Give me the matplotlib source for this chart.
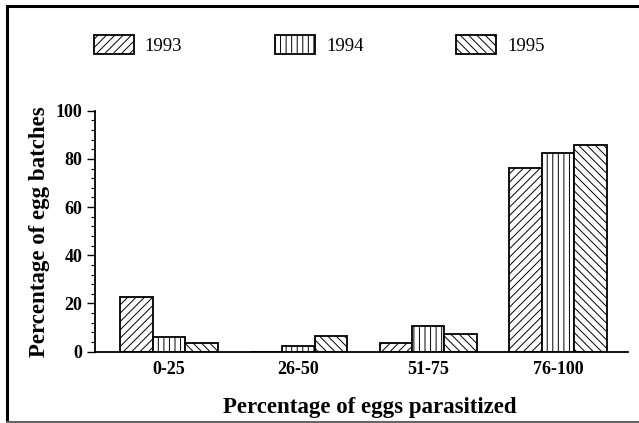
import matplotlib
matplotlib.use("Agg")
import matplotlib.pyplot as plt
import numpy as np
from matplotlib.lines import Line2D

categories = ["0-25", "26-50", "51-75", "76-100"]
years = ["1993", "1994", "1995"]
v1993 = [22.7, 0.0, 3.7, 76.1]
v1994 = [6.0, 2.5, 10.7, 82.3]
v1995 = [3.5, 6.6, 7.4, 85.8]
series = [v1993, v1994, v1995]
hatches = ["////", "|||", "\\\\\\\\"]

plt.rcParams["font.family"] = ["Liberation Serif", "DejaVu Serif"]
plt.rcParams["hatch.linewidth"] = 0.7

fig = plt.figure(figsize=(6.39, 4.23), dpi=100)
ax = fig.add_axes([95/639, 1-351.7/423, (628-95)/639, (351.7-110.7)/423])

x = np.arange(len(categories))
w = 0.25
for i, (vals, h, lab) in enumerate(zip(series, hatches, years)):
    ax.bar(x + (i - 1) * w, vals, width=w, color="white", edgecolor="black",
           linewidth=1.3, hatch=h, label=lab)

ax.set_xlim(-0.57, 3.54)
ax.set_ylim(0, 100)
ax.spines["top"].set_visible(False)
ax.spines["right"].set_visible(False)
ax.spines["left"].set_linewidth(1.3)
ax.spines["bottom"].set_linewidth(1.3)
ax.set_xticks(x)
ax.set_xticklabels(categories, fontsize=13, fontweight="bold")
ax.tick_params(axis="x", length=0, pad=7)
ax.set_yticks([0, 20, 40, 60, 80, 100])
ax.set_yticks(np.arange(0, 101, 4), minor=True)
ax.tick_params(axis="y", which="major", length=6, width=1.0, labelsize=13, pad=3)
ax.tick_params(axis="y", which="minor", length=3, width=0.8)
for t in ax.get_yticklabels():
    t.set_fontweight("bold")
ax.set_ylabel("Percentage of egg batches", fontsize=16.5, fontweight="bold", labelpad=4)
ax.set_xlabel("Percentage of eggs parasitized", fontsize=16.5, fontweight="bold", labelpad=12)
ax.xaxis.set_label_coords(0.516, -0.19)

fig.legend(loc="upper left", bbox_to_anchor=(94/639, 1-35/423), ncol=3,
           frameon=False, fontsize=13.5, handlelength=2.13, handleheight=1.17,
           handletextpad=0.58, columnspacing=4.95, borderpad=0, borderaxespad=0)

# page frame
fig.add_artist(Line2D([7/639, 1], [1-6/423, 1-6/423], color="black", lw=2.2))
fig.add_artist(Line2D([7/639, 7/639], [0, 1-6/423], color="black", lw=2.2))
fig.add_artist(Line2D([7/639, 1], [1/423, 1/423], color="#666666", lw=1.5))

fig.savefig("out.png", dpi=100)
